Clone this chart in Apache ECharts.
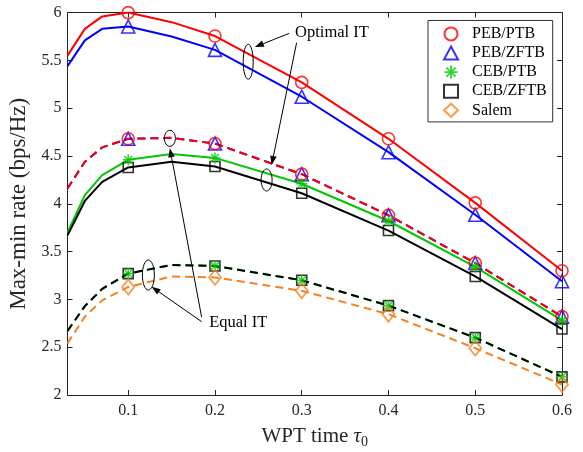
<!DOCTYPE html>
<html><head><meta charset="utf-8">
<script src="https://cdn.jsdelivr.net/npm/echarts@6/dist/echarts.min.js"></script>
<style>html,body{margin:0;padding:0;background:#fff}#c{width:583px;height:452px}</style>
</head><body><div id="c"></div>
<script>
// ---- data ----
const X = [0.03, 0.05, 0.07, 0.1, 0.15, 0.2, 0.3, 0.4, 0.5, 0.6];
const markerX = [0.1, 0.2, 0.3, 0.4, 0.5, 0.6];
const pebPtbOpt  = [5.55, 5.83, 5.96, 6.00, 5.90, 5.755, 5.27, 4.68, 4.01, 3.30];
const pebZftbOpt = [5.44, 5.71, 5.83, 5.855, 5.75, 5.61, 5.12, 4.54, 3.885, 3.19];
const cebPtbOpt  = [3.70, 4.09, 4.30, 4.46, 4.52, 4.48, 4.21, 3.82, 3.34, 2.78];
const cebZftbOpt = [3.67, 4.03, 4.23, 4.38, 4.44, 4.39, 4.11, 3.72, 3.24, 2.69];
const pebEqual   = [4.16, 4.44, 4.59, 4.68, 4.69, 4.63, 4.31, 3.88, 3.38, 2.82];
const cebEqual   = [2.67, 2.93, 3.11, 3.27, 3.36, 3.35, 3.20, 2.935, 2.60, 2.19];
const salem      = [2.54, 2.82, 2.99, 3.13, 3.24, 3.23, 3.09, 2.845, 2.49, 2.11];
const legendNames = ['PEB/PTB', 'PEB/ZFTB', 'CEB/PTB', 'CEB/ZFTB', 'Salem'];
const xTicks = [0.1, 0.2, 0.3, 0.4, 0.5, 0.6];
const annText = ['Optimal IT', 'Equal IT'];

const FONT = '"Liberation Serif", "Times New Roman", serif';
const pts = ys => X.map((x, i) => [x, ys[i]]);
const mk = ys => X.map((x, i) => [x, ys[i]]).filter(p => markerX.some(m => Math.abs(m - p[0]) < 1e-9));

function lineS(ys, color, dashed, w) {
  return { type: 'line', data: pts(ys), symbol: 'none', silent: true,
    lineStyle: { color: color, width: w || 2, type: dashed ? [8, 5] : 'solid' }, z: 2 };
}
const STAR = 'path://M-0.14,-1L0.14,-1L0.14,1L-0.14,1Z M-1,-0.14L1,-0.14L1,0.14L-1,0.14Z M-0.8,-0.6L-0.6,-0.8L0.8,0.6L0.6,0.8Z M0.6,-0.8L0.8,-0.6L-0.6,0.8L-0.8,0.6Z';
function scat(name, sym, size, color, data, filled, bw) {
  return { type: 'scatter', name: name, symbol: sym, symbolSize: size, data: data, z: 4,
    itemStyle: filled ? { color: color } : { color: 'rgba(255,255,255,0)', borderColor: color, borderWidth: bw || 1.6 } };
}

const chart = echarts.init(document.getElementById('c'), null, { renderer: 'canvas' });
const axisCol = '#262626';
const option = {
  animation: false,
  backgroundColor: '#fff',
  grid: { left: 67.5, right: 21, top: 12.6, bottom: 57, containLabel: false, outerBoundsMode: 'none' },
  xAxis: [
    { type: 'value', min: 0.03, max: 0.6, position: 'bottom',
      axisLine: { show: true, lineStyle: { color: axisCol } },
      axisTick: { show: true, inside: true, length: 5, customValues: xTicks, lineStyle: { color: axisCol } },
      axisLabel: { customValues: xTicks, formatter: v => v.toFixed(1), fontFamily: FONT, fontSize: 16, color: axisCol, margin: 8 },
      splitLine: { show: false },
      name: 'WPT time {t|τ}{s|0}', nameLocation: 'middle', nameGap: 28,
      nameTextStyle: { fontFamily: FONT, fontSize: 21, color: axisCol,
        rich: { t: { fontFamily: FONT, fontSize: 21, fontStyle: 'italic', color: axisCol },
                s: { fontFamily: FONT, fontSize: 14, color: axisCol, verticalAlign: 'bottom', padding: [12, 0, 0, 0] } } } },
    { type: 'value', min: 0.03, max: 0.6, position: 'top',
      axisLine: { show: true, lineStyle: { color: axisCol } },
      axisTick: { show: true, inside: true, length: 5, customValues: xTicks, lineStyle: { color: axisCol } },
      axisLabel: { show: false }, splitLine: { show: false } }
  ],
  yAxis: [
    { type: 'value', min: 2, max: 6, interval: 0.5, position: 'left',
      axisLine: { show: true, lineStyle: { color: axisCol } },
      axisTick: { show: true, inside: true, length: 5, lineStyle: { color: axisCol } },
      axisLabel: { fontFamily: FONT, fontSize: 16, color: axisCol, margin: 6 },
      splitLine: { show: false },
      name: 'Max-min rate (bps/Hz)', nameLocation: 'middle', nameGap: 29,
      nameTextStyle: { fontFamily: FONT, fontSize: 23, color: axisCol } },
    { type: 'value', min: 2, max: 6, interval: 0.5, position: 'right',
      axisLine: { show: true, lineStyle: { color: axisCol } },
      axisTick: { show: true, inside: true, length: 5, lineStyle: { color: axisCol } },
      axisLabel: { show: false }, splitLine: { show: false } }
  ],
  legend: {
    data: legendNames, orient: 'vertical', left: 428, top: 20.5,
    itemWidth: 14, itemHeight: 13, itemGap: 3.1, symbolKeepAspect: true,
    padding: [5.4, 6, 3.6, 15],
    borderColor: '#333', borderWidth: 1, backgroundColor: '#fff',
    textStyle: { fontFamily: FONT, fontSize: 16, color: '#000', padding: [0, 0, 0, 9] },
    selectedMode: false
  },
  series: [
    lineS(pebEqual, '#0000ff', true),
    lineS(pebEqual, '#ff0000', true),
    lineS(cebEqual, '#00c800', true),
    lineS(cebEqual, '#000000', true),
    lineS(salem, '#f5821f', true),
    lineS(pebPtbOpt, '#ff0000', false),
    lineS(pebZftbOpt, '#0000ff', false),
    lineS(cebPtbOpt, '#00c800', false),
    lineS(cebZftbOpt, '#000000', false),
    scat('PEB/ZFTB', 'triangle', 13, '#0000ff', mk(pebZftbOpt).concat(mk(pebEqual))),
    scat('PEB/PTB', 'circle', 12, '#ff0000', mk(pebPtbOpt).concat(mk(pebEqual))),
    scat('CEB/ZFTB', 'rect', 10, '#000000', mk(cebZftbOpt).concat(mk(cebEqual))),
    scat('CEB/PTB', STAR, 11, '#00c800', mk(cebPtbOpt).concat(mk(cebEqual)), true),
    scat('Salem', 'diamond', [12, 15], '#f5821f', mk(salem), false, 1.8)
  ]
};
chart.setOption(option);

// ---- annotations (anchored in data coordinates) ----
const P = (x, y) => chart.convertToPixel({ xAxisIndex: 0, yAxisIndex: 0 }, [x, y]);
function arrow(from, to) {
  const a = P(from[0], from[1]), b = P(to[0], to[1]);
  const dx = b[0] - a[0], dy = b[1] - a[1], L = Math.hypot(dx, dy);
  const ux = dx / L, uy = dy / L, hl = 9, hw = 3.3;
  const bx = b[0] - ux * hl, by = b[1] - uy * hl;
  return [
    { type: 'line', shape: { x1: a[0], y1: a[1], x2: bx, y2: by }, style: { stroke: '#000', lineWidth: 1 }, z: 10 },
    { type: 'polygon', shape: { points: [[b[0], b[1]], [bx - uy * hw, by + ux * hw], [bx + uy * hw, by - ux * hw]] }, style: { fill: '#000' }, z: 10 }
  ];
}
function ell(c, rx, ry) {
  const p = P(c[0], c[1]);
  return { type: 'ellipse', shape: { cx: p[0], cy: p[1], rx: rx, ry: ry }, style: { fill: 'none', stroke: '#000', lineWidth: 1 }, z: 10 };
}
function txt(c, s) {
  const p = P(c[0], c[1]);
  return { type: 'text', x: p[0], y: p[1], style: { text: s, fontFamily: FONT, fontSize: 16.5, fill: '#000', textVerticalAlign: 'middle', verticalAlign: 'middle' }, z: 10 };
}
const els = [].concat(
  [txt([0.2923, 5.786], annText[0])],
  arrow([0.2856, 5.783], [0.2460, 5.640]),
  [ell([0.2383, 5.486], 5, 17.5)],
  arrow([0.2941, 5.685], [0.2653, 4.406]),
  [ell([0.2595, 4.249], 5.5, 11)],
  [txt([0.1933, 2.756], annText[1])],
  arrow([0.1846, 2.816], [0.1480, 4.581]),
  [ell([0.1480, 4.685], 5.5, 8)],
  arrow([0.1846, 2.767], [0.1269, 3.133]),
  [ell([0.1232, 3.255], 6, 15)]
);
chart.setOption({ graphic: { elements: els } });
</script>
</body></html>
